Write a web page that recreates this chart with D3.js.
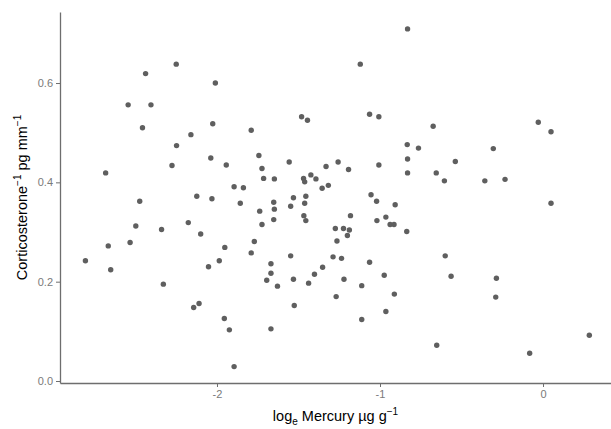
<!DOCTYPE html>
<html>
<head>
<meta charset="utf-8">
<script src="https://cdn.jsdelivr.net/npm/d3@7"></script>
<style>
  html, body { margin: 0; padding: 0; background: #fff; }
  svg { display: block; }
</style>
</head>
<body>
<svg id="chart" width="611" height="429"></svg>
<script>
// log_e Mercury (µg g^-1)
const mercury = [
  -0.831, -2.250, -1.121, -2.438, -2.010, -2.545, -2.405, -1.064, -1.007, -1.481,
  -1.445, -0.029, -2.026, -0.674, -2.457, -1.790, 0.049, -2.160, -0.833, -2.248,
  -0.764, -0.305, -1.743, -2.038, -0.831, -0.538, -1.557, -1.257, -2.276, -1.943,
  -1.007, -1.331, -1.724, -1.193, -2.683, -0.831, -0.655, -1.424, -1.714, -1.648,
  -1.469, -1.393, -0.233, -0.357, -0.605, -1.462, -1.317, -1.895, -1.838, -1.355,
  -1.055, -2.124, -1.455, -1.531, -2.031, -2.474, -1.021, -1.652, -1.462, -1.857,
  0.049, -0.907, -1.548, -1.648, -1.738, -1.467, -1.181, -0.964, -1.652, -1.019,
  -1.455, -2.176, -1.724, -0.938, -0.914, -2.498, -1.274, -1.224, -2.340, -1.188,
  -0.836, -2.100, -1.200, -2.533, -1.771, -1.264, -2.667, -1.952, -1.790, -1.548,
  -0.600, -1.288, -1.236, -2.807, -1.986, -1.064, -1.669, -2.052, -1.352, -2.652,
  -1.669, -1.402, -0.974, -0.564, -1.531, -1.221, -0.286, -1.695, -1.438, -2.329,
  -1.629, -1.112, -0.912, -1.269, -0.290, -2.110, -2.143, -1.526, -0.964, -1.955,
  -1.112, -1.924, -1.669, 0.284, -0.652, -0.082, -1.895
];
// Corticosterone^-1 (pg mm^-1)
const corticosterone = [
  0.709, 0.638, 0.638, 0.619, 0.600, 0.556, 0.556, 0.537, 0.532, 0.532,
  0.525, 0.521, 0.518, 0.513, 0.510, 0.505, 0.502, 0.496, 0.476, 0.474,
  0.469, 0.468, 0.454, 0.449, 0.447, 0.442, 0.441, 0.441, 0.434, 0.435,
  0.435, 0.432, 0.428, 0.426, 0.419, 0.419, 0.419, 0.415, 0.408, 0.407,
  0.408, 0.407, 0.406, 0.403, 0.403, 0.401, 0.394, 0.391, 0.389, 0.388,
  0.375, 0.372, 0.372, 0.369, 0.367, 0.362, 0.362, 0.360, 0.358, 0.358,
  0.358, 0.355, 0.352, 0.346, 0.342, 0.333, 0.333, 0.330, 0.325, 0.323,
  0.323, 0.319, 0.315, 0.315, 0.315, 0.312, 0.307, 0.307, 0.305, 0.304,
  0.301, 0.296, 0.293, 0.279, 0.281, 0.282, 0.272, 0.269, 0.258, 0.252,
  0.252, 0.250, 0.247, 0.242, 0.242, 0.239, 0.236, 0.230, 0.229, 0.224,
  0.217, 0.215, 0.213, 0.211, 0.205, 0.205, 0.207, 0.203, 0.197, 0.195,
  0.191, 0.192, 0.175, 0.170, 0.169, 0.156, 0.148, 0.152, 0.140, 0.126,
  0.124, 0.103, 0.105, 0.092, 0.072, 0.056, 0.029
];
const xTicks = [-2, -1, 0];
const yTicks = [0.0, 0.2, 0.4, 0.6];
const xTickLabels = ["-2", "-1", "0"];
const yTickLabels = ["0.0", "0.2", "0.4", "0.6"];

const points = mercury.map((m, i) => ({ x: m, y: corticosterone[i] }));

const svg = d3.select("#chart");
const font = "'Liberation Sans', Arial, Helvetica, sans-serif";

const pLeft = 60, pRight = 611, pTop = 12, pBottom = 383;
const x = d3.scaleLinear().domain([-2.963, 0.417]).range([pLeft, pRight]);
const y = d3.scaleLinear().domain([-0.004, 0.743]).range([pBottom, pTop]);

// points
svg.append("g")
  .selectAll("circle")
  .data(points)
  .join("circle")
  .attr("cx", d => x(d.x))
  .attr("cy", d => y(d.y))
  .attr("r", 2.7)
  .attr("fill", "#5f5f5f");

// axes
const axisColor = "#6e6e6e";
const xAxis = d3.axisBottom(x).tickValues(xTicks)
  .tickFormat((d, i) => xTickLabels[i]).tickSizeInner(4).tickSizeOuter(0).tickPadding(3);
const yAxis = d3.axisLeft(y).tickValues(yTicks)
  .tickFormat((d, i) => yTickLabels[i]).tickSizeInner(4).tickSizeOuter(0).tickPadding(3);

const gx = svg.append("g").attr("transform", `translate(0,${pBottom})`).call(xAxis);
const gy = svg.append("g").attr("transform", `translate(${pLeft},0)`).call(yAxis);

[gx, gy].forEach(g => {
  g.select(".domain").attr("stroke", axisColor).attr("stroke-width", 1.3);
  g.selectAll(".tick line").attr("stroke", axisColor).attr("stroke-width", 1);
  g.selectAll(".tick text")
    .attr("fill", "#7a7a7a")
    .style("font-family", font)
    .style("font-size", "11px");
});

// x axis title
const xt = svg.append("text")
  .attr("x", (pLeft + pRight) / 2)
  .attr("y", 421)
  .attr("text-anchor", "middle")
  .attr("fill", "#000")
  .style("font-family", font)
  .style("font-size", "14.5px");
xt.append("tspan").text("log");
xt.append("tspan").attr("dy", 4).style("font-size", "10px").text("e");
xt.append("tspan").attr("dy", -4).text(" Mercury µg g");
xt.append("tspan").attr("dy", -6).style("font-size", "10px").text("\u22121");

// y axis title
const yt = svg.append("text")
  .attr("transform", `translate(27,${(pTop + pBottom) / 2}) rotate(-90)`)
  .attr("text-anchor", "middle")
  .attr("fill", "#000")
  .style("font-family", font)
  .style("font-size", "14.5px");
yt.append("tspan").text("Corticosterone");
yt.append("tspan").attr("dy", -6).style("font-size", "10px").text("\u22121");
yt.append("tspan").attr("dy", 6).text("  pg mm");
yt.append("tspan").attr("dy", -6).style("font-size", "10px").text("\u22121");
</script>
</body>
</html>
